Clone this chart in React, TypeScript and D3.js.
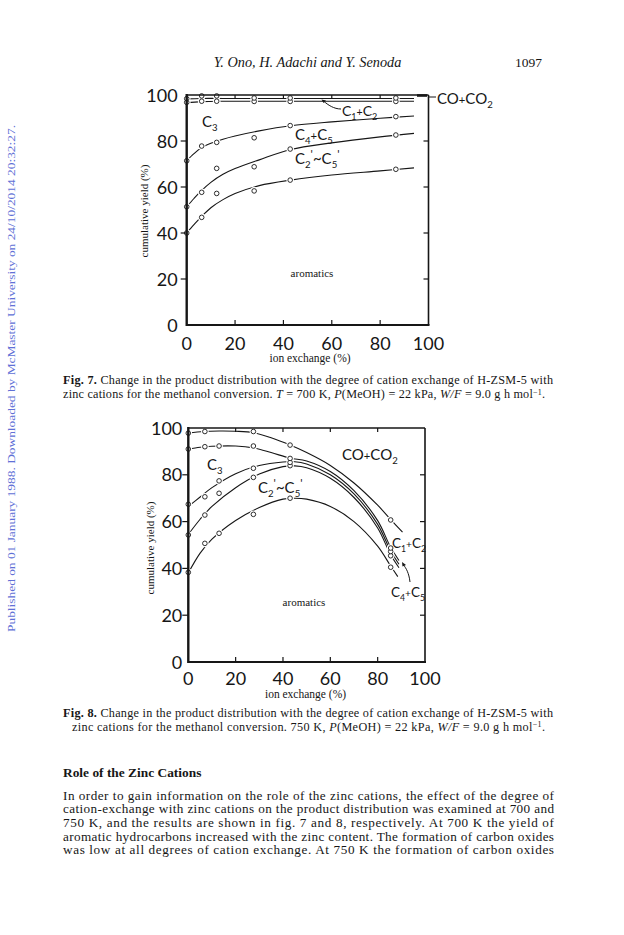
import React from 'react'
import * as d3 from 'd3'

type Pt = [number, number]

// degree of ion exchange (%) at which samples were measured
const fig7Exchange = [0, 6.2, 12.4, 27.9, 42.8, 86.5]
const fig8Exchange = [0, 7, 13, 27.5, 43, 85.5]
const yTicks = [0, 20, 40, 60, 80, 100]
const xTicks = [0, 20, 40, 60, 80, 100]

// Fig. 7 (700 K) measured cumulative yields (%)
const fig7Aromatics = [40, 46.8, 57.2, 58.3, 63, 67.7]
const fig7Olefins = [51.4, 57.7, 68.1, 68.8, 76.5, 82.6]
const fig7C4C5 = [71.4, 77.8, 79.4, 81.4, 86.7, 90.6]
const fig7C3 = [96.8, 97.3, 97.3, 97.2, 97.2, 97.2]
const fig7C1C2 = [98.4, 99.6, 99.6, 98.7, 98.7, 98.7]

// Fig. 7 hand-drawn curves [x, y]
const fig7AromaticsCurve: Pt[] = [[0, 40], [3, 43.6], [6, 47], [10, 51], [15, 54.5], [20, 57.2], [30, 60.6], [43, 63], [60, 65.2], [80, 67], [94, 68.3]]
const fig7OlefinsCurve: Pt[] = [[0, 51.4], [3, 55], [6, 58.3], [10, 62], [15, 65.5], [20, 68], [30, 71.8], [43, 76.3], [60, 79.2], [80, 81.8], [94, 83.3]]
const fig7C4C5Curve: Pt[] = [[0, 71.4], [3, 74.5], [6, 77], [10, 79], [15, 80.8], [20, 82.2], [30, 84.4], [43, 86.6], [60, 88.3], [80, 89.9], [94, 90.9]]
const fig7C3Curve: Pt[] = [[0, 96.6], [6, 97.1], [15, 97.3], [43, 97.3], [94, 97.3]]
const fig7C1C2Curve: Pt[] = [[0, 98.3], [6, 98.5], [15, 98.5], [43, 98.5], [94, 98.5]]

// Fig. 8 (750 K) measured cumulative yields (%)
const fig8Aromatics = [38.3, 50.7, 55, 63.1, 70, 40.5]
const fig8Olefins = [54.3, 62.8, 72.1, 78.9, 83.9, 45.4]
const fig8C4C5 = [67.4, 70.6, 77.4, 82.8, 85.3, 47.2]
const fig8C3 = [91, 92, 92.3, 92.3, 87, 48.7]
const fig8C1C2: (number | null)[] = [97.8, 98.5, null, 98.5, 92.7, 60.7]

// Fig. 8 hand-drawn curves [x, y]
const fig8AromaticsCurve: Pt[] = [[0, 38], [5, 46.5], [10, 52.5], [20, 60.5], [30, 66], [40, 69.6], [45, 70], [50, 69.6], [60, 66.5], [70, 60], [80, 49.5], [85.5, 41], [88.5, 36.5]]
const fig8OlefinsCurve: Pt[] = [[0, 54.5], [5, 61], [10, 66.5], [20, 74.5], [30, 80.3], [40, 83.5], [45, 83.8], [50, 83], [60, 78.5], [70, 70.3], [80, 57.3], [85.5, 45.8], [89, 40.3]]
const fig8C4C5Curve: Pt[] = [[0, 66.5], [5, 70.5], [10, 74.5], [20, 80.5], [30, 84], [40, 85.5], [45, 85.6], [50, 84.6], [60, 80], [70, 71.8], [80, 58.8], [85.5, 47.4], [89, 41.8]]
const fig8C3Curve: Pt[] = [[0, 91], [5, 91.8], [10, 92.2], [20, 92.3], [27.5, 91.5], [35, 89.5], [43, 87.1], [50, 85.9], [60, 81.4], [70, 73.2], [80, 60.4], [85.5, 49], [89, 43.4]]
const fig8C1C2Curve: Pt[] = [[0, 97.8], [6.5, 98.5], [13, 98.7], [20, 98.6], [27.5, 98], [35, 95.8], [43, 92.7], [50, 89.5], [60, 84], [70, 76.5], [80, 67], [85.5, 60.9], [90.5, 55.5]]

const paragraph = [
  'In order to gain information on the role of the zinc cations, the effect of the degree of',
  'cation-exchange with zinc cations on the product distribution was examined at 700 and',
  '750 K, and the results are shown in fig. 7 and 8, respectively. At 700 K the yield of',
  'aromatic hydrocarbons increased with the zinc content. The formation  of carbon oxides',
  'was low at all degrees of cation exchange. At 750 K the formation of carbon oxides',
]

const SANS = "Lato, 'DejaVu Sans', sans-serif"
const SERIF = "'Liberation Serif', 'Times New Roman', serif"
const INK = '#161616'

interface PanelProps {
  left: number
  right: number
  top: number
  bottom: number
  xs: number[]
  series: (number | null)[][]
  curves: Pt[][]
  yLabelX: number
  yLabelY: number
  xTitleY: number
  xTitleX: number
  tickLabelDy: number
  yTickGap: number
  children?: React.ReactNode
}

function Panel(p: PanelProps) {
  const x = d3.scaleLinear().domain([0, 100]).range([p.left, p.right])
  const y = d3.scaleLinear().domain([0, 100]).range([p.bottom, p.top])
  const line = d3
    .line<Pt>()
    .x(d => x(d[0]))
    .y(d => y(d[1]))
    .curve(d3.curveCatmullRom.alpha(0.5))
  const inner = [20, 40, 60, 80]
  const marks = p.series.flatMap((s, i) =>
    s.flatMap((v, j) => (v == null ? [] : [{ key: `${i}-${j}`, cx: x(p.xs[j]), cy: y(v) }]))
  )

  return (
    <g>
      {p.curves.map((c, i) => (
        <path key={'c' + i} d={line(c) ?? ''} fill="none" stroke={INK} strokeWidth={1.1} />
      ))}
      {marks.map(m => (
        <circle key={'h' + m.key} cx={m.cx} cy={m.cy} r={3.8} fill="#fff" />
      ))}
      {marks.map(m => (
        <circle key={'m' + m.key} cx={m.cx} cy={m.cy} r={2.3} fill="#fff" stroke={INK} strokeWidth={0.9} />
      ))}

      {/* frame */}
      <line x1={p.left} x2={p.right} y1={p.top} y2={p.top} stroke={INK} strokeWidth={1.6} />
      <line x1={p.right} x2={p.right} y1={p.top} y2={p.bottom} stroke={INK} strokeWidth={1.6} />
      <line x1={p.left} x2={p.right + 1} y1={p.bottom} y2={p.bottom} stroke={INK} strokeWidth={2.2} />
      <line x1={p.left} x2={p.left} y1={p.top - 1} y2={p.bottom + 1} stroke={INK} strokeWidth={2.4} />

      {inner.map(t => (
        <g key={'t' + t}>
          <line x1={x(t)} x2={x(t)} y1={p.bottom} y2={p.bottom - 5} stroke={INK} strokeWidth={1.2} />
          <line x1={x(t)} x2={x(t)} y1={p.top} y2={p.top + 4} stroke={INK} strokeWidth={1.2} />
          <line x1={p.left - 6} x2={p.left} y1={y(t)} y2={y(t)} stroke={INK} strokeWidth={1.2} />
          <line x1={p.right - 5} x2={p.right} y1={y(t)} y2={y(t)} stroke={INK} strokeWidth={1.2} />
        </g>
      ))}

      {yTicks.map(t => (
        <text key={'yl' + t} x={p.left - p.yTickGap} y={y(t) + 6.5} textAnchor="end" fontFamily={SANS} fontSize={18} fill={INK}>
          {t}
        </text>
      ))}
      {xTicks.map(t => (
        <text key={'xl' + t} x={x(t)} y={p.bottom + p.tickLabelDy} textAnchor="middle" fontFamily={SANS} fontSize={18} fill={INK}>
          {t}
        </text>
      ))}

      <text
        transform={`translate(${p.yLabelX},${p.yLabelY}) rotate(-90)`}
        textAnchor="middle"
        fontFamily={SERIF}
        fontSize={11}
        fill={INK}
      >
        cumulative yield (%)
      </text>
      <text x={p.xTitleX} y={p.xTitleY} textAnchor="middle" fontFamily={SERIF} fontSize={11.5} fill={INK}>
        ion exchange (%)
      </text>
      {p.children}
    </g>
  )
}

// chemical label: C with subscripts / primes
function Chem({ x, y, parts, size = 15 }: { x: number; y: number; parts: [string, string?][]; size?: number }) {
  let level = 0
  const spans = parts.map(([t, kind], i) => {
    const target = kind === 'sub' ? 4 : kind === 'sup' ? -6 : 0
    const dy = target - level
    level = target
    const fs = kind === 'sub' ? size * 0.64 : kind === 'sup' ? size * 0.75 : kind === 'plus' ? size * 0.75 : size
    return (
      <tspan key={i} dy={dy} fontSize={fs}>
        {t}
      </tspan>
    )
  })
  return (
    <text x={x} y={y} fontFamily={SANS} fontSize={size} fill={INK}>
      {spans}
    </text>
  )
}

const C3: [string, string?][] = [['C'], ['3', 'sub']]
const C1C2: [string, string?][] = [['C'], ['1', 'sub'], ['+', 'plus'], ['C'], ['2', 'sub']]
const C4C5: [string, string?][] = [['C'], ['4', 'sub'], ['+', 'plus'], ['C'], ['5', 'sub']]
const OLEF: [string, string?][] = [['C'], ['2', 'sub'], ["'", 'sup'], ['~C'], ['5', 'sub'], ["'", 'sup']]
const COX: [string, string?][] = [['CO'], ['+', 'plus'], ['CO'], ['2', 'sub']]

function Caption({ y, num, line2 }: { y: number; num: string; line2: React.ReactNode }) {
  return (
    <g fontFamily={SERIF} fontSize={12.2} fill={INK}>
      <text x={63} y={y} textLength={490} lengthAdjust="spacing">
        <tspan fontWeight="bold">{`Fig. ${num}.`}</tspan>
        {' Change in the product distribution with the degree of cation exchange of H-ZSM-5 with'}
      </text>
      {line2}
    </g>
  )
}

export default function App() {
  return (
    <svg
      width={624}
      height={935}
      viewBox="0 0 624 935"
      style={{ position: 'absolute', left: 0, top: 0, background: '#fff' }}
    >
      <rect width={624} height={935} fill="#fff" />

      {/* running head */}
      <text x={307.5} y={67} textAnchor="middle" fontFamily={SERIF} fontStyle="italic" fontSize={14.3} fill={INK}>
        Y. Ono, H. Adachi and Y. Senoda
      </text>
      <text x={515} y={67} fontFamily={SERIF} fontSize={13.5} fill={INK}>
        1097
      </text>

      {/* download stamp */}
      <text
        transform="translate(15,632) rotate(-90)"
        fontFamily={SERIF}
        fontSize={11}
        fill="#6070d6"
        textLength={507}
        lengthAdjust="spacingAndGlyphs"
      >
        Published on 01 January 1988. Downloaded by McMaster University on 24/10/2014 20:32:27.
      </text>

      <Panel
        left={186.7}
        right={428.5}
        top={95}
        bottom={325}
        xs={fig7Exchange}
        series={[fig7Aromatics, fig7Olefins, fig7C4C5, fig7C3, fig7C1C2]}
        curves={[fig7AromaticsCurve, fig7OlefinsCurve, fig7C4C5Curve, fig7C3Curve, fig7C1C2Curve]}
        yLabelX={148}
        yLabelY={211}
        xTitleX={310}
        xTitleY={362}
        tickLabelDy={25}
        yTickGap={9}
      >
        <Chem x={202} y={127} parts={C3} />
        <Chem x={342} y={116} parts={C1C2} size={14} />
        <Chem x={295} y={140} parts={C4C5} />
        <Chem x={295} y={164} parts={OLEF} />
        <Chem x={437} y={104} parts={COX} />
        <path d="M341,109 C334,109 328,105 323.5,101" fill="none" stroke={INK} strokeWidth={1} />
        <path d="M321.5,99.5 L326,100.5 L323.5,103 Z" fill={INK} />
        <line x1={428.5} x2={436} y1={97} y2={97} stroke={INK} strokeWidth={1} />
        <line x1={417} x2={427} y1={95.5} y2={95.5} stroke={INK} strokeWidth={2.6} />
        <text x={312} y={277} textAnchor="middle" fontFamily={SERIF} fontSize={11} fill={INK}>
          aromatics
        </text>
      </Panel>

      <Caption
        y={384}
        num="7"
        line2={
          <text x={63} y={398} textLength={482} lengthAdjust="spacing">
            {'zinc cations for the methanol conversion. '}
            <tspan fontStyle="italic">T</tspan>
            {' = 700 K, '}
            <tspan fontStyle="italic">P</tspan>
            {'(MeOH) = 22 kPa, '}
            <tspan fontStyle="italic">W/F</tspan>
            {' = 9.0 g h mol'}
            <tspan dy={-3.5} fontSize={8}>−1</tspan>
            <tspan dy={3.5}>.</tspan>
          </text>
        }
      />

      <Panel
        left={188.3}
        right={425}
        top={428}
        bottom={662}
        xs={fig8Exchange}
        series={[fig8Aromatics, fig8Olefins, fig8C4C5, fig8C3, fig8C1C2]}
        curves={[fig8AromaticsCurve, fig8OlefinsCurve, fig8C4C5Curve, fig8C3Curve, fig8C1C2Curve]}
        yLabelX={154}
        yLabelY={548}
        xTitleX={305.5}
        xTitleY={698}
        tickLabelDy={23}
        yTickGap={6}
      >
        <Chem x={207} y={470} parts={C3} />
        <Chem x={342} y={460} parts={COX} />
        <Chem x={258} y={493} parts={OLEF} />
        <Chem x={392} y={548} parts={C1C2} size={13.5} />
        <Chem x={391} y={597} parts={C4C5} size={13.5} />
        <path d="M410,582 C409,573 406,568 403.5,565" fill="none" stroke={INK} strokeWidth={1} />
        <path d="M402,562 L406,565 L402.5,566.5 Z" fill={INK} />
        <text x={304} y={606} textAnchor="middle" fontFamily={SERIF} fontSize={11} fill={INK}>
          aromatics
        </text>
      </Panel>

      <Caption
        y={716.5}
        num="8"
        line2={
          <text x={72} y={730.5} textLength={473} lengthAdjust="spacing">
            {'zinc cations for the methanol conversion. 750 K, '}
            <tspan fontStyle="italic">P</tspan>
            {'(MeOH) = 22 kPa, '}
            <tspan fontStyle="italic">W/F</tspan>
            {' = 9.0 g h mol'}
            <tspan dy={-3.5} fontSize={8}>−1</tspan>
            <tspan dy={3.5}>.</tspan>
          </text>
        }
      />

      <text x={63} y={777} fontFamily={SERIF} fontWeight="bold" fontSize={13.4} fill={INK}>
        Role of the Zinc Cations
      </text>
      <g fontFamily={SERIF} fontSize={13.2} fill={INK}>
        {paragraph.map((l, i) => (
          <text key={i} x={63} y={799.5 + i * 13.7} textLength={491} lengthAdjust="spacing">
            {l}
          </text>
        ))}
      </g>
    </svg>
  )
}
